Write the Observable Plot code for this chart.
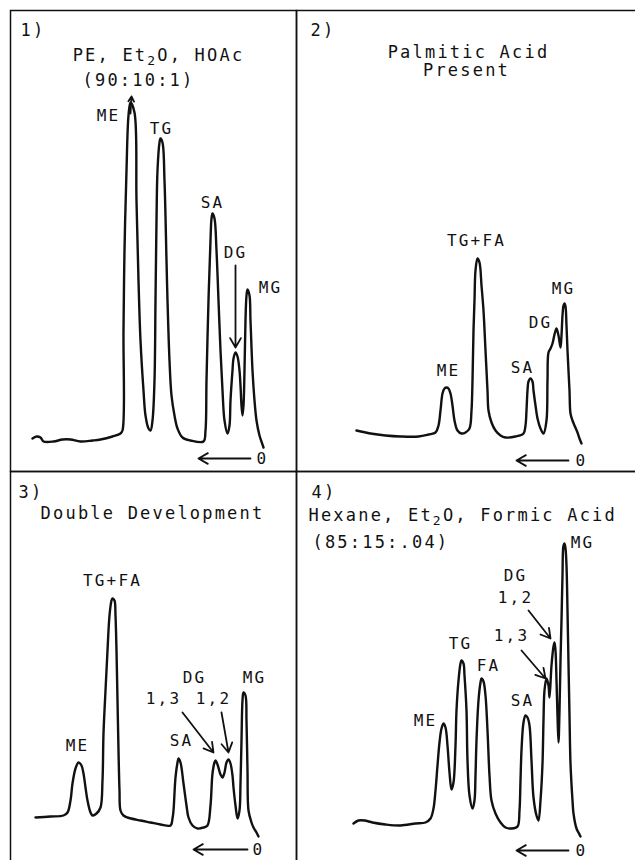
<!DOCTYPE html>
<html><head><meta charset="utf-8">
<script src="https://cdn.jsdelivr.net/npm/d3@7"></script>
<script src="https://cdn.jsdelivr.net/npm/@observablehq/plot@0.6"></script>
<style>
html,body{margin:0;padding:0;background:#fff;}
#fig{position:relative;width:635px;height:860px;overflow:hidden;background:#fff;}
#fig svg{position:absolute;}
</style></head><body><div id="fig"></div>
<script>
// ---- Panel 1: PE, Et2O, HOAc (90:10:1) ----  [x = migration, y = detector response]
const p1Trace = [[22,33],[26,35],[30,34],[33,30],[43,30],[52,32],[60,32],[70,30],[82,31],[90,32],[102,35],[110,38],[112,41],[113,141],[114,221],[116,301],[118,356],[120,369],[124,359],[126,271],[128,191],[130,131],[133,81],[135,56],[138,43],[140,41],[142,51],[144,91],[145,171],[146,251],[147,301],[149,329],[150,333],[152,329],[154,291],[156,211],[157,171],[159,111],[161,76],[164,56],[167,43],[172,34],[180,31],[193,30],[195,41],[196,91],[198,171],[200,231],[201,253],[202,258],[204,253],[206,221],[208,171],[210,121],[212,81],[214,51],[217,38],[219,46],[220,71],[222,101],[223,113],[225,119],[227,115],[229,101],[230,86],[231,66],[232,56],[233,66],[234,101],[235,151],[236,176],[237,182],[239,176],[240,151],[242,101],[244,71],[246,51],[249,36],[252,27],[253,24]];
const p1Labels = [{text:"ME",x:98,y:356},{text:"TG",x:151,y:343},{text:"SA",x:202,y:269},{text:"DG",x:225,y:219},{text:"MG",x:260,y:184},{text:"0",x:252,y:13}];
const p1Arrows = [{x1:120,y1:358,x2:121,y2:375},{x1:225,y1:206,x2:225,y2:124},{x1:240,y1:13,x2:188,y2:13}];
const p1Titles = [{text:"1)",x:10,y:441,anchor:"start"},{text:"PE, Et₂O, HOAc",x:148,y:416,anchor:"middle"},{text:"(90:10:1)",x:128,y:391,anchor:"middle"}];

// ---- Panel 2: Palmitic Acid Present ----
const p2Trace = [[60,41],[74,38],[89,36],[104,35],[122,35],[132,37],[139,39],[142,46],[144,61],[146,78],[148,83],[150,84],[152,83],[154,78],[156,66],[158,51],[161,41],[165,38],[169,39],[173,43],[175,61],[176,91],[177,141],[178,171],[179,201],[181,213],[183,209],[185,186],[187,161],[189,121],[191,81],[192,61],[195,49],[199,41],[204,36],[209,34],[219,35],[227,38],[229,46],[230,61],[231,81],[232,90],[234,93],[236,90],[237,81],[239,66],[241,53],[244,43],[247,38],[250,51],[251,91],[252,119],[254,123],[256,128],[258,137],[260,143],[262,136],[264,124],[265,136],[266,156],[267,166],[268,168],[269,165],[270,146],[271,121],[273,81],[274,58],[276,51],[278,46],[281,39],[283,33],[285,28]];
const p2Labels = [{text:"TG+FA",x:180,y:231},{text:"ME",x:152,y:101},{text:"SA",x:226,y:104},{text:"DG",x:244,y:149},{text:"MG",x:267,y:183},{text:"0",x:285,y:11}];
const p2Arrows = [{x1:272,y1:11,x2:220,y2:11}];
const p2Titles = [{text:"2)",x:14,y:441,anchor:"start"},{text:"Palmitic Acid",x:172,y:419,anchor:"middle"},{text:"Present",x:170,y:401,anchor:"middle"}];

// ---- Panel 3: Double Development ----
const p3Trace = [[25,54],[40,55],[53,56],[57,59],[60,71],[62,88],[65,103],[68,109],[71,106],[73,98],[75,84],[77,71],[80,59],[82,56],[86,58],[90,64],[92,91],[93,138],[95,181],[97,221],[99,256],[101,271],[102,273],[104,271],[105,256],[106,221],[107,171],[108,121],[109,81],[110,61],[113,56],[117,54],[130,51],[140,49],[150,47],[160,46],[162,53],[163,61],[165,94],[167,109],[168,113],[170,109],[173,88],[176,66],[178,54],[182,46],[187,43],[193,44],[197,46],[200,66],[202,98],[204,109],[205,111],[207,107],[210,97],[212,94],[214,99],[216,109],[218,112],[220,108],[222,96],[223,84],[225,66],[227,53],[229,61],[230,88],[231,131],[232,171],[233,179],[235,176],[236,151],[237,101],[238,61],[241,49],[243,44],[246,39],[248,35]];
const p3Labels = [{text:"TG+FA",x:102,y:291},{text:"ME",x:67,y:126},{text:"SA",x:171,y:131},{text:"DG",x:184,y:194},{text:"1,3",x:153,y:173},{text:"1,2",x:203,y:173},{text:"MG",x:244,y:194},{text:"0",x:248,y:22}];
const p3Arrows = [{x1:172,y1:159,x2:203,y2:119},{x1:211,y1:159,x2:218,y2:119},{x1:237,y1:22,x2:183,y2:22}];
const p3Titles = [{text:"3)",x:8,y:379,anchor:"start"},{text:"Double Development",x:142,y:358,anchor:"middle"}];

// ---- Panel 4: Hexane, Et2O, Formic Acid (85:15:.04) ----
const p4Trace = [[57,48],[62,51],[68,51],[76,49],[89,47],[104,46],[119,48],[129,49],[134,53],[137,63],[139,81],[141,106],[143,129],[145,143],[147,148],[149,144],[151,126],[153,99],[155,82],[157,89],[159,126],[160,161],[162,191],[164,208],[165,211],[167,208],[168,196],[170,161],[171,111],[173,76],[176,63],[178,71],[179,96],[180,131],[182,171],[184,189],[185,193],[187,190],[189,176],[191,141],[193,96],[195,71],[199,58],[204,49],[209,44],[215,43],[221,45],[223,61],[224,91],[225,121],[227,149],[229,156],[231,154],[233,146],[235,111],[237,74],[240,56],[242,51],[244,71],[246,108],[247,151],[248,181],[250,193],[252,186],[253,174],[255,206],[257,225],[258,229],[259,221],[260,191],[261,156],[262,129],[263,161],[264,211],[265,251],[266,296],[267,326],[268,328],[269,323],[270,306],[271,261],[272,208],[273,156],[274,108],[276,71],[277,58],[280,43],[282,39],[284,35]];
const p4Labels = [{text:"MG",x:286,y:329},{text:"DG",x:219,y:296},{text:"1,2",x:219,y:274},{text:"1,3",x:215,y:236},{text:"TG",x:164,y:228},{text:"FA",x:192,y:206},{text:"SA",x:226,y:171},{text:"ME",x:129,y:151},{text:"0",x:285,y:21}];
const p4Arrows = [{x1:232,y1:261,x2:254,y2:233},{x1:225,y1:221,x2:249,y2:193},{x1:272,y1:21,x2:220,y2:21}];
const p4Titles = [{text:"4)",x:15,y:379,anchor:"start"},{text:"Hexane, Et₂O, Formic Acid",x:12,y:356,anchor:"start"},{text:"(85:15:.04)",x:16,y:329,anchor:"start"}];

// ---- layout ----
const panels = [
  {trace:p1Trace, labels:p1Labels, arrows:p1Arrows, titles:p1Titles, left:10,  top:10,  w:286, h:461},
  {trace:p2Trace, labels:p2Labels, arrows:p2Arrows, titles:p2Titles, left:296, top:10,  w:345, h:461},
  {trace:p3Trace, labels:p3Labels, arrows:p3Arrows, titles:p3Titles, left:10,  top:471, w:286, h:400},
  {trace:p4Trace, labels:p4Labels, arrows:p4Arrows, titles:p4Titles, left:296, top:471, w:345, h:400}
];
const M = 3;
const ink = "#111";
const SVGNS = "http://www.w3.org/2000/svg";
const fig = document.getElementById("fig");

function subscriptTwo(svg) {
  svg.querySelectorAll("text, tspan").forEach(el => {
    for (const node of Array.from(el.childNodes)) {
      if (node.nodeType === 3 && node.nodeValue.includes("₂")) {
        const parts = node.nodeValue.split("₂");
        parts.forEach((s, i) => {
          if (i > 0) {
            const sub = document.createElementNS(SVGNS, "tspan");
            sub.setAttribute("baseline-shift", "-30%");
            sub.setAttribute("font-size", "13");
            sub.textContent = "2";
            el.insertBefore(sub, node);
          }
          el.insertBefore(document.createTextNode(s), node);
        });
        el.removeChild(node);
      }
    }
  });
}

for (const p of panels) {
  const svg = Plot.plot({
    width: p.w + 2*M, height: p.h + 2*M, margin: M,
    x: {domain: [0, p.w], axis: null},
    y: {domain: [0, p.h], axis: null},
    style: {fontFamily: "'DejaVu Sans Mono', monospace", letterSpacing: "2.2px", background: "transparent", overflow: "visible"},
    marks: [
      Plot.frame({stroke: ink, strokeWidth: 1.5}),
      Plot.line(p.trace, {x: d => d[0], y: d => d[1], curve: "catmull-rom", stroke: ink, strokeWidth: 2.4, strokeLinejoin: "round", strokeLinecap: "round"}),
      Plot.arrow(p.arrows, {x1: "x1", y1: "y1", x2: "x2", y2: "y2", stroke: ink, strokeWidth: 1.8, headLength: 9}),
      Plot.text(p.labels, {x: "x", y: "y", text: "text", fontSize: 16, fill: ink, textAnchor: "middle", lineAnchor: "middle"}),
      Plot.text(p.titles, {filter: d => d.anchor === "middle", x: "x", y: "y", text: "text", fontSize: 17, fill: ink, textAnchor: "middle", lineAnchor: "middle"}),
      Plot.text(p.titles, {filter: d => d.anchor === "start", x: "x", y: "y", text: "text", fontSize: 17, fill: ink, textAnchor: "start", lineAnchor: "middle"})
    ]
  });
  subscriptTwo(svg);
  svg.style.left = (p.left - M) + "px";
  svg.style.top = (p.top - M) + "px";
  svg.style.maxWidth = "none";
  fig.appendChild(svg);
}
</script></body></html>
